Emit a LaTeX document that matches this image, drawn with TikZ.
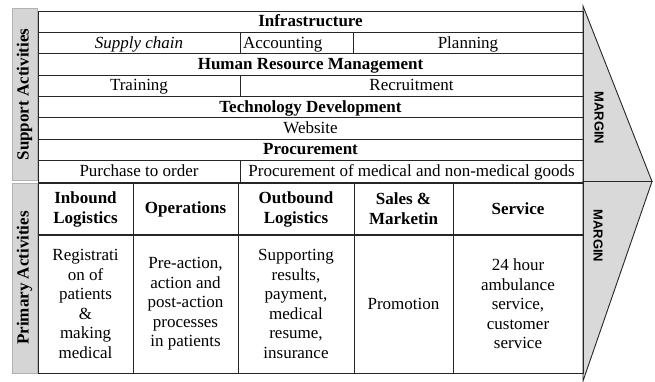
\documentclass[tikz,border=0pt]{standalone}
\usepackage{fontspec}
\setmainfont{Liberation Serif}
\setsansfont{Liberation Sans}
\usetikzlibrary{calc}

\begin{document}
\begin{tikzpicture}[x=1pt,y=-1pt]

		\useasboundingbox (0,0) rectangle (655,382);

		\tikzset{cell/.style =
				{draw=black!85, line width=0.9pt, rectangle, inner sep=0pt, align=center,
				 minimum height=21.4pt, font=\fontsize{17}{19.5}\selectfont}
		}
		\tikzset{row/.style = {cell, text height=13pt, text depth=3pt}}
		\tikzset{side/.style =
				{draw=gray!60, fill=gray!33, line width=1pt, rectangle, inner sep=0pt,
				 minimum height=25pt, rotate=90, font=\fontsize{17}{19}\selectfont\bfseries}
		}
		\tikzstyle{chevron}=[draw=black!85, line width=0.9pt, fill=gray!30]
		\tikzstyle{margin}=[rotate=-90, inner sep=0pt, font=\sffamily\bfseries\fontsize{13}{15}\selectfont]

		%margin
		\coordinate (m1) at (583,6);
		\coordinate (m2) at (652,181.5);
		\coordinate (m3) at (583,181.5);
		\coordinate (m4) at (583,381);
		\draw[chevron] (m1) -- (m2) -- (m3) -- cycle;
		\draw[chevron] (m3) -- (m2) -- (m4) -- cycle;
		\node[margin] (marginS) at (599,118) {MARGIN};
		\node[margin] (marginP) at (598,236) {MARGIN};

		%sidebars
		\node[side, minimum width=171pt] (support) at (24.5,94.5) {Support Activities};
		\node[side, minimum width=190pt] (primary) at (24.5,278) {Primary Activities};

		%support
		\node[row, minimum width=545pt] (infra) at (310.5,21.7) {\bfseries Infrastructure};
		\node[row, minimum width=202pt] (supply) at (139,43.1) {\itshape Supply chain};
		\node[row, minimum width=113pt, text width=107pt, align=left] (account) at (296.5,43.1) {Accounting};
		\node[row, minimum width=230pt] (plan) at (468,43.1) {Planning};
		\node[row, minimum width=545pt] (hrm) at (310.5,64.4) {\bfseries Human Resource Management};
		\node[row, minimum width=202pt] (train) at (139,85.8) {Training};
		\node[row, minimum width=343pt] (recruit) at (411.5,85.8) {Recruitment};
		\node[row, minimum width=545pt] (tech) at (310.5,107.2) {\bfseries Technology Development};
		\node[row, minimum width=545pt] (web) at (310.5,128.6) {Website};
		\node[row, minimum width=545pt] (proc) at (310.5,149.9) {\bfseries Procurement};
		\node[row, minimum width=202pt] (purchase) at (139,171.3) {Purchase to order};
		\node[row, minimum width=343pt] (goods) at (411.5,171.3) {Procurement of medical and non-medical goods};

		%primary header
		\tikzstyle{head}=[cell, minimum height=52pt, font=\fontsize{17}{20}\selectfont\bfseries]
		\node[head, minimum width=95pt] (inbound) at (85.5,209) {Inbound\\Logistics};
		\node[head, minimum width=105pt] (ops) at (185.5,209) {Operations};
		\node[head, minimum width=116pt] (outbound) at (296,209) {Outbound\\Logistics};
		\node[head, minimum width=99pt] (sales) at (403.5,209) {Sales \&\\Marketin};
		\node[head, minimum width=130pt] (service) at (518,209) {Service};

		%primary body
		\tikzstyle{body}=[cell, minimum height=138pt]
		\node[body, minimum width=95pt] (reg) at (85.5,304) {Registrati\\on of\\patients\\\&\\making\\medical};
		\node[body, minimum width=105pt] (action) at (185.5,304) {Pre-action,\\action and\\post-action\\processes\\in patients};
		\node[body, minimum width=116pt] (results) at (296,304) {Supporting\\results,\\payment,\\medical\\resume,\\insurance};
		\node[body, minimum width=99pt] (promo) at (403.5,304) {Promotion};
		\node[body, minimum width=130pt] (ambulance) at (518,304) {24 hour\\ambulance\\service,\\customer\\service};

		\draw[line width=2pt, black!85] (inbound.south west) -- (service.south east);
	\end{tikzpicture}
\end{document}
